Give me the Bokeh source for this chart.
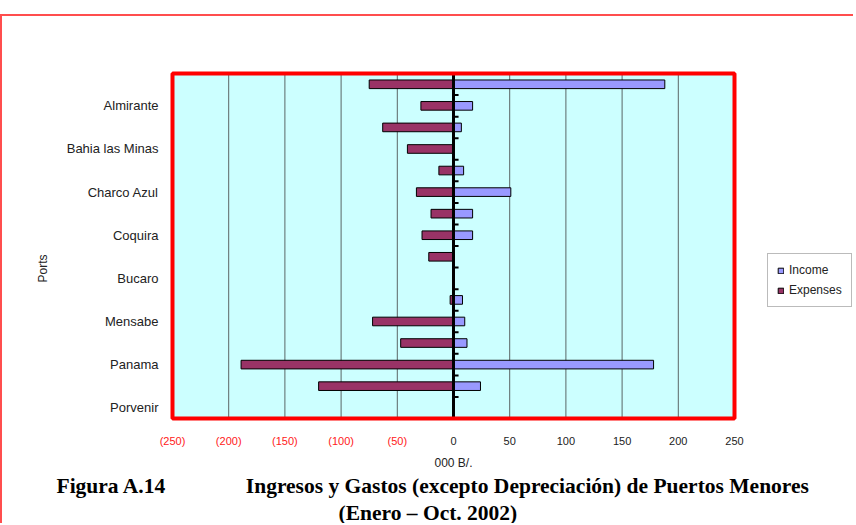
from bokeh.plotting import figure
from bokeh.models import (Range1d, FixedTicker, Legend, LegendItem, Title, ColumnDataSource)
from bokeh.core.properties import value
from bokeh.embed import file_html
from bokeh.resources import INLINE

# ---- data (rows listed top to bottom; only every other port name is shown) ----
row_labels = ["", "Almirante", "", "Bahia las Minas", "", "Charco Azul", "", "Coquira",
              "", "Bucaro", "", "Mensabe", "", "Panama", "", "Porvenir"]
income = [188, 17, 7, 0, 9, 51, 17, 17, 0, 0, 8, 10, 12, 178, 24, 0]
expenses = [-75, -29, -63, -41, -13, -33, -20, -28, -22, 0, -3, -72, -47, -189, -120, 0]
x_ticks = [-250, -200, -150, -100, -50, 0, 50, 100, 150, 200, 250]
x_tick_labels = ["(250)", "(200)", "(150)", "(100)", "(50)", "0", "50", "100", "150", "200", "250"]
x_title = "000 B/."
y_title = "Ports"
fig_label = "Figura A.14"
caption_1 = "Ingresos y Gastos (excepto Depreciación) de Puertos Menores"
caption_2 = "(Enero – Oct. 2002)"

n = len(row_labels)
ypos = [n - i for i in range(n)]
X_LO, X_HI = x_ticks[0], x_ticks[-1]
Y_LO, Y_HI = 0.5, n + 0.5

# ---- layout constants (pixels) ----
W, H = 853, 509
BL, BR, BT, BB = 156, 0, 53, 58          # borders around the drawing frame
PA_LEFT, PA_RIGHT = 14, 576              # plot area inside the frame (x, px)
PA_TOP, PA_BOTTOM = 4, 349               # plot area inside the frame (y, px)
FW, FH = W - BL - BR, H - BT - BB
sx = (PA_RIGHT - PA_LEFT) / (X_HI - X_LO)
sy = (PA_BOTTOM - PA_TOP) / (Y_HI - Y_LO)
x_start = X_LO - PA_LEFT / sx
x_end = X_HI + (FW - PA_RIGHT) / sx
y_end = Y_HI + PA_TOP / sy
y_start = Y_LO - (FH - PA_BOTTOM) / sy


def below_plot(dpx):
    """y value dpx pixels below the plot area"""
    return Y_LO - dpx / sy


src = ColumnDataSource(dict(y=ypos, income=income, expenses=expenses, zero=[0] * n))

p = figure(width=W, height=H, output_backend="svg", toolbar_location=None,
           x_range=Range1d(x_start, x_end), y_range=Range1d(y_start, y_end),
           x_axis_type=None,
           min_border_left=BL, min_border_right=BR, min_border_top=BT,
           min_border_bottom=BB)
p.styles = {"margin-top": "14px", "border-top": "2px solid #ff4d4d",
            "border-left": "2px solid #ff4d4d"}
p.background_fill_color = "white"
p.border_fill_color = "white"
p.outline_line_color = None
p.ygrid.visible = False

# plot area
p.quad(left=[X_LO], right=[X_HI], bottom=[Y_LO], top=[Y_HI],
       fill_color="#CCFFFF", line_color=None)
# vertical grid lines
inner = x_ticks[1:-1]
p.segment(x0=inner, x1=inner, y0=[Y_LO] * len(inner), y1=[Y_HI] * len(inner),
          line_color="#5a6666", line_width=1)

# bars
exp_r = p.hbar(y="y", left="expenses", right="zero", height=0.4, source=src,
               fill_color="#993366", line_color="black", line_width=1)
inc_r = p.hbar(y="y", left="zero", right="income", height=0.4, source=src,
               fill_color="#9999FF", line_color="black", line_width=1)

# zero axis with small category ticks
p.segment(x0=[0], x1=[0], y0=[Y_LO], y1=[Y_HI], line_color="black", line_width=3)
bnd = [k + 0.5 for k in range(n + 1)]
p.segment(x0=[0] * len(bnd), x1=[4.5] * len(bnd), y0=bnd, y1=bnd,
          line_color="black", line_width=2)

# plot-area border
p.quad(left=[X_LO], right=[X_HI], bottom=[Y_LO], top=[Y_HI],
       fill_color=None, line_color="#ff0000", line_width=4)

# y axis (category names)
p.yaxis.ticker = FixedTicker(ticks=[ypos[i] for i in range(n) if row_labels[i]])
p.yaxis.major_label_overrides = {ypos[i]: row_labels[i] for i in range(n) if row_labels[i]}
p.yaxis.axis_line_color = None
p.yaxis.major_tick_line_color = None
p.yaxis.major_tick_out = 0
p.yaxis.major_tick_in = 0
p.yaxis.minor_tick_line_color = None
p.yaxis.major_label_standoff = 0
p.yaxis.major_label_text_font = "Liberation Sans"
p.yaxis.major_label_text_font_size = "13px"
p.yaxis.major_label_text_color = "#222222"
p.yaxis.axis_label = y_title
p.yaxis.axis_label_text_font = "Liberation Sans"
p.yaxis.axis_label_text_font_size = "12px"
p.yaxis.axis_label_text_font_style = "normal"
p.yaxis.axis_label_text_color = "#222222"
p.yaxis.axis_label_standoff = 14

# x tick labels (negatives in red, shown in parentheses) and x title
tick_src = ColumnDataSource(dict(x=x_ticks, text=x_tick_labels,
                                 color=["#ff2020" if t < 0 else "#222222" for t in x_ticks]))
p.text(x="x", y=below_plot(22), text="text", source=tick_src, text_color="color",
       text_align="center", text_baseline="middle",
       text_font=value("Liberation Sans"), text_font_size="11px")
p.text(x=[0], y=[below_plot(44)], text=[x_title], text_color="#222222",
       text_align="center", text_baseline="middle",
       text_font=value("Liberation Sans"), text_font_size="12px")

# legend (inside the drawing frame, right of the plot area)
legend = Legend(items=[LegendItem(label="Income", renderers=[inc_r]),
                       LegendItem(label="Expenses", renderers=[exp_r])],
                location=(609, 160), orientation="vertical",
                label_text_font="Liberation Sans", label_text_font_size="12px",
                label_text_color="#222222",
                glyph_width=7, glyph_height=7, label_standoff=5, spacing=6,
                padding=9, margin=0, border_line_color="#777777",
                border_line_width=1, background_fill_color="white",
                label_height=14)
p.add_layout(legend)

# caption
NB = "\u00a0"
t1 = Title(text=fig_label + NB * 15 + caption_1,
           align="left", offset=-102, standoff=8, text_font="Liberation Serif",
           text_font_size="21.5px", text_font_style="bold", text_color="black")
t2 = Title(text=caption_2, align="left", offset=180, standoff=-6,
           text_font="Liberation Serif", text_font_size="21.5px", text_font_style="bold",
           text_color="black")
p.add_layout(t1, "below")
p.add_layout(t2, "below")

open("out.html", "w").write(file_html(p, INLINE))
